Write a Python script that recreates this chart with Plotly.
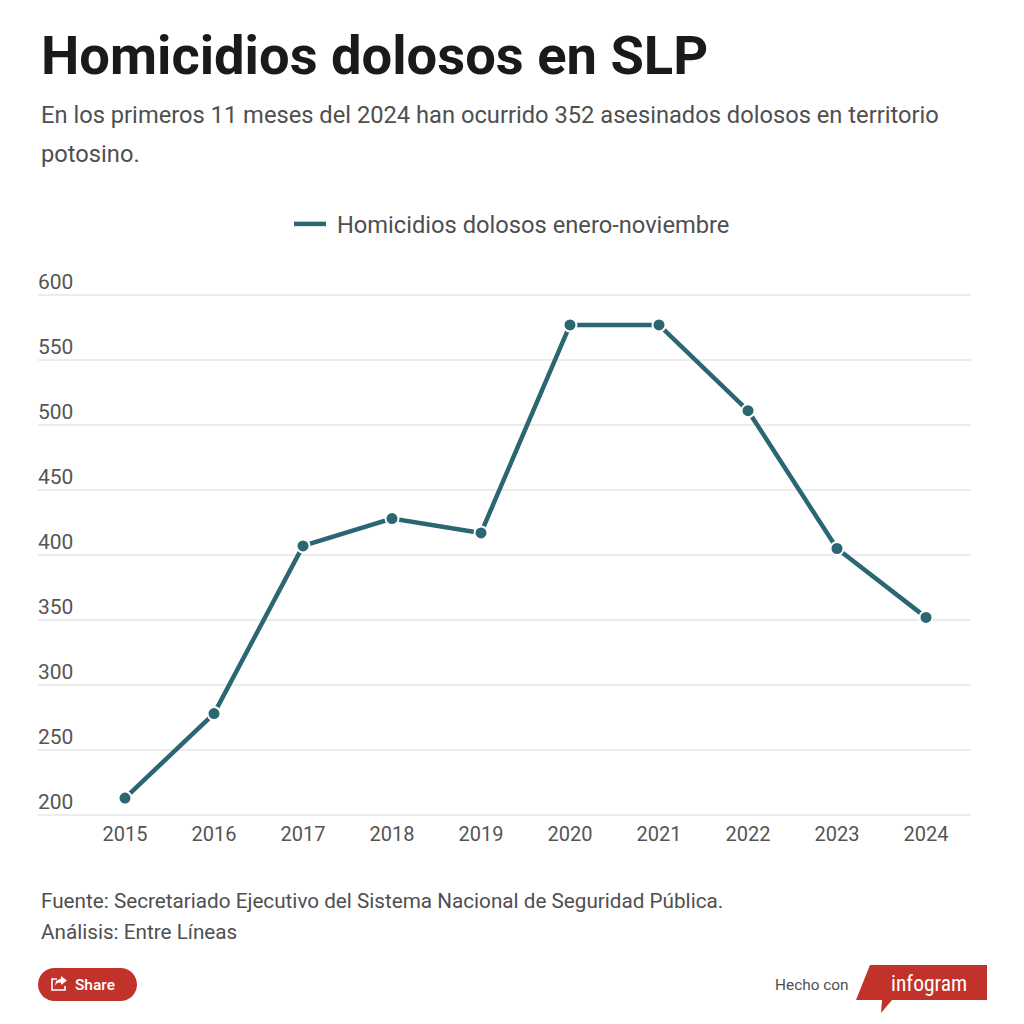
import plotly.graph_objects as go

# values
years = [2015, 2016, 2017, 2018, 2019, 2020, 2021, 2022, 2023, 2024]
homicidios = [213, 278, 407, 428, 417, 577, 577, 511, 405, 352]
y_ticks = [200, 250, 300, 350, 400, 450, 500, 550, 600]

# the leading nbsp widens the gap between the legend line and its text
serie_name = "\u00a0Homicidios dolosos enero-noviembre"
titulo = "<b>Homicidios dolosos en SLP</b>"
subtitulo_1 = "En los primeros 11 meses del 2024 han ocurrido 352 asesinados dolosos en territorio"
subtitulo_2 = "potosino."
fuente = "Fuente: Secretariado Ejecutivo del Sistema Nacional de Seguridad Pública."
analisis = "Análisis: Entre Líneas"

TEAL = "#2b6673"
RED = "#c1322a"
GREY = "#4f4f4f"
W = 1024


def px(v):
    return v / W


def py(v):
    return 1 - v / W


def path(points):
    return "M " + " L ".join(f"{px(x):.5f},{py(y):.5f}" for x, y in points) + " Z"


# annotations carry about 2px of padding, so pull them back by that
def note(text, x, y, size, color=GREY, family="Roboto", xanchor="left"):
    return dict(text=text, x=px(x - 2), y=py(y), xref="paper", yref="paper", showarrow=False,
                xanchor=xanchor, yanchor="middle", align="left",
                font=dict(size=size, color=color, family=family))


fig = go.Figure()

# line only trace so the legend shows a plain line
fig.add_trace(go.Scatter(x=years, y=homicidios, mode="lines", name=serie_name,
                         line=dict(color=TEAL, width=4.5), hoverinfo="skip"))
fig.add_trace(go.Scatter(x=years, y=homicidios, mode="markers", showlegend=False,
                         marker=dict(color=TEAL, size=13, line=dict(color="white", width=2))))

shapes = [
    # share button
    dict(type="rect", xref="paper", yref="paper", x0=px(54), x1=px(121), y0=py(1001), y1=py(968),
         fillcolor=RED, line=dict(width=0), layer="above"),
    dict(type="circle", xref="paper", yref="paper", x0=px(38), x1=px(71), y0=py(1001), y1=py(968),
         fillcolor=RED, line=dict(width=0), layer="above"),
    dict(type="circle", xref="paper", yref="paper", x0=px(104), x1=px(137), y0=py(1001), y1=py(968),
         fillcolor=RED, line=dict(width=0), layer="above"),
    # share icon
    dict(type="path", xref="paper", yref="paper",
         path=path([(57, 979), (52, 979), (52, 990), (65, 990), (65, 986)]).replace(" Z", ""),
         line=dict(color="white", width=1.6), fillcolor="rgba(0,0,0,0)", layer="above"),
    dict(type="path", xref="paper", yref="paper",
         path=path([(61, 976), (67, 980.5), (61, 985), (61, 982.5), (57, 983), (55, 986), (56, 981), (61, 978.5)]),
         line=dict(width=0), fillcolor="white", layer="above"),
    # infogram logo
    dict(type="path", xref="paper", yref="paper",
         path=path([(870, 965), (987, 965), (987, 1000), (892, 1000), (881, 1013), (882, 1000), (856, 1000)]),
         fillcolor=RED, line=dict(width=0), layer="above"),
]

annotations = [
    note(titulo, 41, 55, 54.3, color="#1a1a1a"),
    note(subtitulo_1, 41, 115, 23.7),
    note(subtitulo_2, 41, 154, 23.7),
    note(fuente, 41, 901, 20.7),
    note(analisis, 41, 932, 20.7),
    note("Share", 75, 984.5, 15.5, color="white", family="Roboto Medium, Roboto"),
    note("Hecho con", 775, 984.5, 15.4),
    note("infogram", 891, 983, 21.5, color="white", family="Roboto Condensed, Roboto"),
]

fig.update_layout(
    width=W,
    height=W,
    autosize=False,
    margin=dict(l=0, r=0, t=0, b=0, autoexpand=False),
    paper_bgcolor="white",
    plot_bgcolor="white",
    font=dict(family="Roboto", color=GREY),
    hovermode="closest",
    legend=dict(orientation="h", x=0.5, xanchor="center", y=py(224), yanchor="middle",
                font=dict(size=23.7, color=GREY), itemwidth=32, bgcolor="rgba(0,0,0,0)"),
    xaxis=dict(
        domain=[px(38), px(971)],
        range=[2015 - 87 / 89, 2024 + 45 / 89],
        tickmode="array",
        tickvals=years,
        ticktext=[str(y) for y in years],
        tickfont=dict(size=20, color="#555555"),
        ticks="",
        showgrid=False,
        zeroline=False,
        showline=False,
        ticklabelstandoff=2,
    ),
    # range goes a bit past 200/600 so plotly keeps the end gridlines
    yaxis=dict(
        domain=[py(817.6), py(292.4)],
        range=[198, 602],
        tickmode="array",
        tickvals=y_ticks,
        tickfont=dict(size=21, color="#555555"),
        ticklabelposition="inside",
        ticklabeloverflow="allow",
        ticklabelshift=-13,
        ticklabelstandoff=-3,
        ticks="",
        gridcolor="#ececec",
        gridwidth=1.5,
        zeroline=False,
        showline=False,
    ),
    shapes=shapes,
    annotations=annotations,
)

fig.write_html("out.html", config=dict(displayModeBar=False),
               post_script="document.body.style.margin='0';document.body.style.overflow='hidden';")
